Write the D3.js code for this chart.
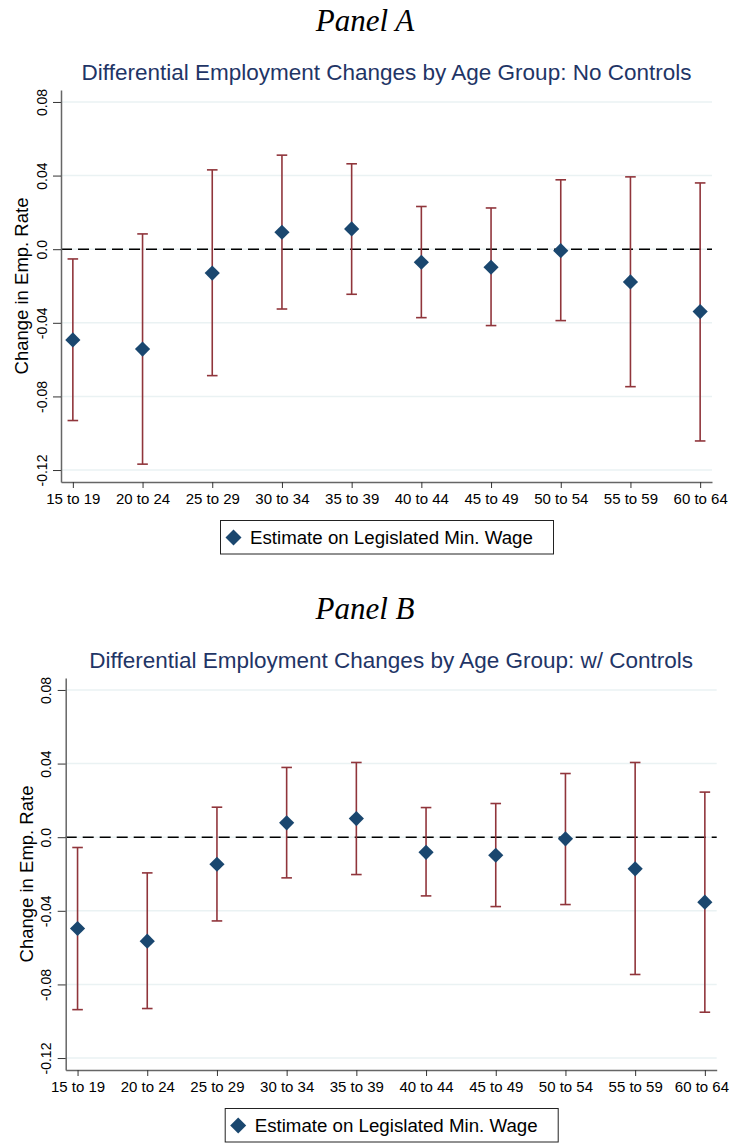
<!DOCTYPE html>
<html>
<head>
<meta charset="utf-8">
<script src="https://cdn.jsdelivr.net/npm/d3@7"></script>
<style>
  html, body { margin: 0; padding: 0; background: #fff; }
  svg { display: block; }
</style>
</head>
<body>
<svg id="chart" width="730" height="1144"></svg>
<script>
// Age groups on the x axis
const ageGroups = ["15 to 19", "20 to 24", "25 to 29", "30 to 34", "35 to 39",
                   "40 to 44", "45 to 49", "50 to 54", "55 to 59", "60 to 64"];

// Y-axis tick values and labels
const yTicks = [-0.12, -0.08, -0.04, 0.0, 0.04, 0.08];
const yTickLabels = ["-0.12", "-0.08", "-0.04", "0.0", "0.04", "0.08"];

// Panel A: no controls — point estimates and confidence bounds
const estimateA = [-0.0493, -0.0543, -0.0130, 0.0092, 0.0110, -0.0071, -0.0098, -0.0008, -0.0178, -0.0339];
const upperA    = [-0.0053,  0.0083,  0.0431, 0.0511, 0.0464,  0.0232,  0.0224,  0.0377,  0.0393,  0.0360];
const lowerA    = [-0.0931, -0.1168, -0.0687, -0.0325, -0.0245, -0.0372, -0.0415, -0.0388, -0.0747, -0.1042];

// Panel B: with controls
const estimateB = [-0.0496, -0.0565, -0.0147, 0.0078, 0.0101, -0.0082, -0.0098, -0.0009, -0.0172, -0.0353];
const upperB    = [-0.0056, -0.0194,  0.0163, 0.0379, 0.0406,  0.0161,  0.0183,  0.0346,  0.0406,  0.0245];
const lowerB    = [-0.0937, -0.0931, -0.0455, -0.0221, -0.0203, -0.0319, -0.0377, -0.0366, -0.0746, -0.0951];

const panelLabels = ["Panel A", "Panel B"];
const chartTitles = ["Differential Employment Changes by Age Group: No Controls",
                     "Differential Employment Changes by Age Group: w/ Controls"];
const yTitle = "Change in Emp. Rate";
const legendLabel = "Estimate on Legislated Min. Wage";

const C = {
  title: "#1f3566",
  marker: "#1a476f",
  ci: "#90353b",
  grid: "#eaf2f3",
  axis: "#666666",
  text: "#000000"
};

const W = 730;
const svg = d3.select("#chart");
const sans = "'Liberation Sans', Arial, sans-serif";

function drawPanel(dx, dy, idx, est, up, lo) {
  const g = svg.append("g").attr("transform", `translate(${dx},${dy})`);

  const left = 61, right = 712, top = 90, bottom = 482;

  const x = d3.scalePoint().domain(ageGroups).range([left, right]).padding(0.17);
  const y = d3.scaleLinear().domain([-0.1265, 0.0865]).range([bottom, top]);

  // Panel label
  g.append("text")
    .attr("x", 365 - dx).attr("y", 31)
    .attr("text-anchor", "middle")
    .style("font-family", "'Liberation Serif', 'DejaVu Serif', serif")
    .style("font-style", "italic")
    .style("font-size", "31px")
    .attr("fill", "#000")
    .text(panelLabels[idx]);

  // Chart title
  g.append("text")
    .attr("x", (left + right) / 2).attr("y", 80)
    .attr("text-anchor", "middle")
    .style("font-family", sans)
    .style("font-size", "22.5px")
    .attr("fill", C.title)
    .text(chartTitles[idx]);

  // Gridlines
  g.append("g").selectAll("line").data(yTicks).join("line")
    .attr("x1", left).attr("x2", right)
    .attr("y1", d => y(d)).attr("y2", d => y(d))
    .attr("stroke", C.grid).attr("stroke-width", 1.5);

  // Zero reference line
  g.append("line")
    .attr("x1", left).attr("x2", right)
    .attr("y1", y(0)).attr("y2", y(0))
    .attr("stroke", "#000").attr("stroke-width", 1.6)
    .attr("stroke-dasharray", "11,6");

  // Y axis
  const yAxis = d3.axisLeft(y).tickValues(yTicks)
    .tickFormat((d, i) => yTickLabels[i]).tickSize(8).tickSizeOuter(0);
  const ya = g.append("g").attr("transform", `translate(${left},0)`).call(yAxis);
  ya.select(".domain").attr("stroke", C.axis).attr("stroke-width", 1.5);
  ya.selectAll(".tick line").attr("stroke", "#333").attr("stroke-width", 1);
  ya.selectAll(".tick text")
    .attr("x", null).attr("dy", null)
    .attr("transform", "translate(-14.5,0) rotate(-90)")
    .attr("text-anchor", "middle")
    .style("font-family", sans).style("font-size", "14px").attr("fill", C.text);

  // X axis
  const xAxis = d3.axisBottom(x).tickSize(6).tickSizeOuter(0);
  const xa = g.append("g").attr("transform", `translate(0,${bottom})`).call(xAxis);
  xa.select(".domain").attr("stroke", C.axis).attr("stroke-width", 1.5);
  xa.selectAll(".tick line").attr("stroke", "#333").attr("stroke-width", 1);
  xa.selectAll(".tick text")
    .attr("dy", null).attr("y", 22)
    .style("font-family", sans).style("font-size", "15px").attr("fill", C.text)
    .each(function (d) {
      // keep the outermost label inside the page
      const half = this.getComputedTextLength() / 2;
      const overflow = dx + x(d) + half - (W - 1.5);
      if (overflow > 0) d3.select(this).attr("x", -overflow);
    });

  // Y axis title
  g.append("text")
    .attr("transform", `translate(28,${(top + bottom) / 2}) rotate(-90)`)
    .attr("text-anchor", "middle")
    .style("font-family", sans).style("font-size", "18.5px")
    .attr("fill", C.text)
    .text(yTitle);

  const rows = ageGroups.map((a, i) => ({ a, est: est[i], up: up[i], lo: lo[i] }));

  // Confidence intervals
  const ci = g.append("g").attr("stroke", C.ci).attr("stroke-width", 1.6);
  ci.selectAll("line.v").data(rows).join("line").attr("class", "v")
    .attr("x1", d => x(d.a)).attr("x2", d => x(d.a))
    .attr("y1", d => y(d.up)).attr("y2", d => y(d.lo));
  ci.selectAll("line.cu").data(rows).join("line").attr("class", "cu")
    .attr("x1", d => x(d.a) - 5.3).attr("x2", d => x(d.a) + 5.3)
    .attr("y1", d => y(d.up)).attr("y2", d => y(d.up));
  ci.selectAll("line.cl").data(rows).join("line").attr("class", "cl")
    .attr("x1", d => x(d.a) - 5.3).attr("x2", d => x(d.a) + 5.3)
    .attr("y1", d => y(d.lo)).attr("y2", d => y(d.lo));

  // Point estimates (diamonds)
  const diamond = (r) => `M0,${-r}L${r},0L0,${r}L${-r},0Z`;
  g.append("g").selectAll("path").data(rows).join("path")
    .attr("transform", d => `translate(${x(d.a)},${y(d.est)})`)
    .attr("d", diamond(7.6))
    .attr("fill", C.marker);

  // Legend
  const lg = g.append("g");
  lg.append("rect")
    .attr("x", 220.5).attr("y", 520.5).attr("width", 333).attr("height", 33.5)
    .attr("fill", "#fff").attr("stroke", "#222").attr("stroke-width", 1);
  lg.append("path")
    .attr("transform", "translate(233.5,537.5)")
    .attr("d", diamond(8))
    .attr("fill", C.marker);
  lg.append("text")
    .attr("x", 250).attr("y", 543.5)
    .style("font-family", sans).style("font-size", "18.7px")
    .attr("fill", C.text)
    .text(legendLabel);
}

drawPanel(0, 0, 0, estimateA, upperA, lowerA);
drawPanel(4.7, 588, 1, estimateB, upperB, lowerB);
</script>
</body>
</html>
